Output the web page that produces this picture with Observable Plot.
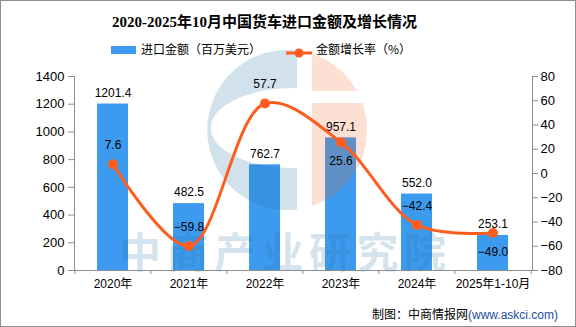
<!DOCTYPE html>
<html><head><meta charset="utf-8">
<script src="https://cdn.jsdelivr.net/npm/d3@7"></script>
<script src="https://cdn.jsdelivr.net/npm/@observablehq/plot@0.6"></script>
<style>
body{margin:0;background:#fff;}
#wrap{position:relative;width:576px;height:327px;overflow:hidden;background:#fff;font-family:"Noto Sans CJK SC",sans-serif;}
#frame{position:absolute;left:0;top:0;width:576px;height:327px;box-sizing:border-box;border:1px solid #8e8e8e;pointer-events:none;}
#title{position:absolute;left:112px;top:12px;width:300px;text-align:center;font-family:"Liberation Serif","Noto Sans CJK SC",serif;font-weight:bold;font-size:15px;line-height:20px;color:#000;white-space:nowrap;}
.leg{position:absolute;top:41px;font-size:12px;line-height:16px;color:#000;white-space:nowrap;}
#caption{position:absolute;right:18px;top:306px;font-size:12px;line-height:16px;color:#000;white-space:nowrap;}
#caption span{color:#1c4da1;font-family:"Liberation Sans",sans-serif;}
svg{position:absolute;left:0;top:0;}
</style></head>
<body>
<div id="wrap">
  <div id="chart"></div>
  <div id="title">2020-2025年10月中国货车进口金额及增长情况</div>
  <div class="leg" style="left:111px"><span style="display:inline-block;width:25px;height:8px;background:#3d9bef;vertical-align:middle;margin-right:5px;position:relative;top:-1px"></span>进口金额（百万美元）</div>
  <div class="leg" style="left:286px"><span style="display:inline-block;width:26px;height:10px;vertical-align:middle;margin-right:4px;position:relative;top:-1px"><svg width="26" height="10" style="position:static"><line x1="0" y1="5" x2="26" y2="5" stroke="#fe5d1f" stroke-width="3"/><circle cx="13" cy="5" r="4.5" fill="#fe5d1f"/></svg></span>金额增长率（%）</div>
  <div id="caption">制图：中商情报网<span>(www.askci.com)</span></div>
  <div id="frame"></div>
</div>
<script>
const categories = ["2020年","2021年","2022年","2023年","2024年","2025年1-10月"];
const amounts = [1201.4, 482.5, 762.7, 957.1, 552.0, 253.1];
const growth = [7.6, -59.8, 57.7, 25.6, -42.4, -49.0];
const leftTicks = [0, 200, 400, 600, 800, 1000, 1200, 1400];
const rightTicks = [-80, -60, -40, -20, 0, 20, 40, 60, 80];

const data = categories.map((c, i) => ({cat: c, amount: amounts[i], growth: growth[i], i}));

const W = 576, H = 327, mL = 74, mR = 44, mT = 76, mB = 57;
const leftMax = 1400, rMin = -80, rMax = 80;
const toLeft = g => (g - rMin) * leftMax / (rMax - rMin);
const fromLeft = v => v * (rMax - rMin) / leftMax + rMin;
const half = (W - mL - mR) / categories.length / 2;
const fmtNeg = v => (v < 0 ? "\u2212" + Math.abs(v) : String(v));
const fmt1 = v => (v < 0 ? "\u2212" + Math.abs(v).toFixed(1) : v.toFixed(1));
const barColor = "#3d9bef", lineColor = "#fe5d1f", axisColor = "#8e8e8e";
const numFont = "Liberation Sans, Noto Sans CJK SC, sans-serif";

function watermark() {
  const g = d3.create("svg:g").attr("pointer-events", "none");
  g.append("path")
    .attr("d", "M297,50.6 A80,80 0 1 0 297,209.4 Z M297,88.03 A83,40 0 1 0 297,167.97 Z")
    .attr("fill-rule", "evenodd").attr("fill", "rgb(30,110,160)").attr("fill-opacity", 0.2);
  g.append("path")
    .attr("d", "M312,54 A80,80 0 0 1 356.85,91 L312,91 Z M312,103 L362.3,103 A80,80 0 0 1 312,206 Z")
    .attr("fill", "rgb(242,101,34)").attr("fill-opacity", 0.2);
  g.append("text").attr("x", 119).attr("y", 268)
    .attr("text-anchor", "start")
    .attr("font-family", "Noto Sans CJK SC").attr("font-weight", "bold").attr("font-size", 42)
    .attr("letter-spacing", 5.5).attr("fill", "rgb(30,110,160)").attr("fill-opacity", 0.19)
    .text("中商产业研究院");
  return g.node();
}

const chart = Plot.plot({
  width: W, height: H,
  marginLeft: mL, marginRight: mR, marginTop: mT, marginBottom: mB,
  x: {domain: categories, paddingInner: 0.59, paddingOuter: 0.295, label: null},
  y: {domain: [0, leftMax], label: null},
  style: {fontFamily: numFont, fontSize: "12px", color: "#000", background: "transparent", overflow: "visible"},
  marks: [
    Plot.barY(data, {x: "cat", y: "amount", fill: barColor}),
    watermark,
    Plot.frame({anchor: "left", stroke: axisColor}),
    Plot.frame({anchor: "right", stroke: axisColor}),
    Plot.ruleY([0], {stroke: axisColor}),
    Plot.ruleX(categories, {x: d => d, y1: 0, y2: 0, insetBottom: -4, dx: -half, stroke: axisColor}),
    Plot.ruleX(categories.slice(-1), {x: d => d, y1: 0, y2: 0, insetBottom: -4, dx: half, stroke: axisColor}),
    Plot.axisY({anchor: "left", ticks: leftTicks, tickFormat: d => String(d), tickSize: 6, tickPadding: 4, fontSize: 13, stroke: axisColor, fill: "#000", label: null}),
    Plot.axisY({anchor: "right", ticks: rightTicks.map(toLeft), tickFormat: v => fmtNeg(Math.round(fromLeft(v))), tickSize: 5, tickPadding: 3, fontSize: 13, stroke: axisColor, fill: "#000", label: null}),
    Plot.axisX({tickSize: 0, tickPadding: 9, fontSize: 12, fontFamily: "Liberation Sans, Noto Sans CJK SC, sans-serif", fill: "#000", label: null}),
    Plot.text(data, {x: "cat", y: "amount", text: d => fmt1(d.amount), dy: -11, fontSize: 12, fill: "#000"}),
    Plot.line(data, {x: "cat", y: d => toLeft(d.growth), curve: "catmull-rom", stroke: lineColor, strokeWidth: 3}),
    Plot.dot(data, {x: "cat", y: d => toLeft(d.growth), r: 5, fill: lineColor}),
    Plot.text(data.filter(d => d.i !== 3 && d.i !== 5), {x: "cat", y: d => toLeft(d.growth), text: d => fmt1(d.growth), dy: -19, fontSize: 12, fill: "#000"}),
    Plot.text(data.filter(d => d.i === 3 || d.i === 5), {x: "cat", y: d => toLeft(d.growth), text: d => fmt1(d.growth), dy: 19, fontSize: 12, fill: "#000"})
  ]
});
document.getElementById("chart").appendChild(chart);
</script>
</body></html>
